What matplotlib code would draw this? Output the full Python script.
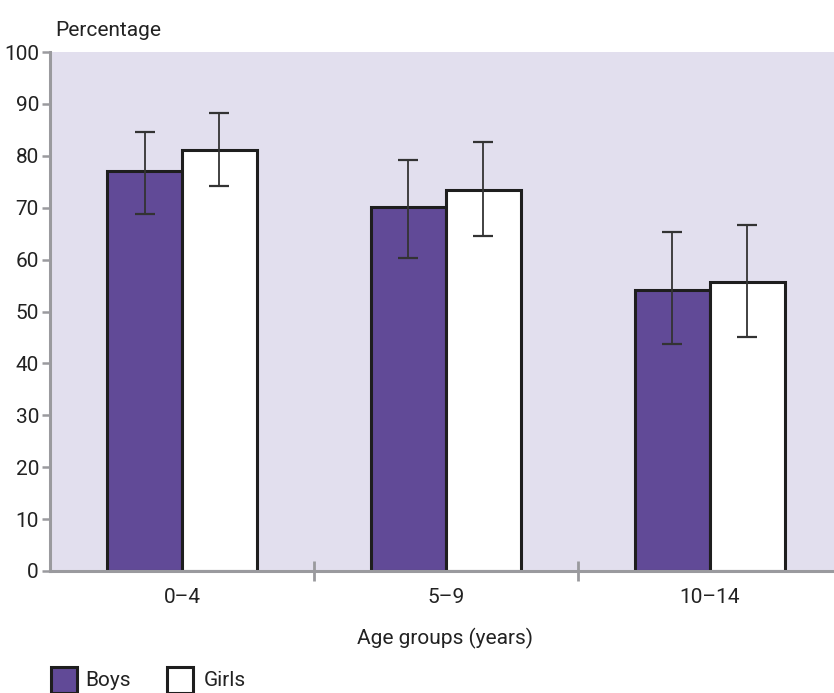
import matplotlib
matplotlib.use("Agg")
import matplotlib.pyplot as plt
from matplotlib.patches import Rectangle
import numpy as np

plt.rcParams['font.family'] = ['Liberation Sans Narrow', 'Roboto', 'DejaVu Sans']

categories = ["0–4", "5–9", "10–14"]
boys = [77.1, 70.1, 54.1]
boys_low = [68.7, 60.4, 43.7]
boys_high = [84.6, 79.2, 65.3]
girls = [81.2, 73.5, 55.6]
girls_low = [74.2, 64.5, 45.1]
girls_high = [88.2, 82.6, 66.7]
yticks = [0, 10, 20, 30, 40, 50, 60, 70, 80, 90, 100]

purple = "#614a97"
bg = "#e2dfee"
axis_gray = "#9a9a9e"
err_col = "#333333"

fig = plt.figure(figsize=(8.34, 6.93), dpi=100)
ax = fig.add_axes([50/834, 1-571/693, 1-50/834, (571-52)/693])
ax.set_facecolor(bg)

x = np.arange(len(categories))
w = 0.284
boys_err = [np.array(boys) - np.array(boys_low), np.array(boys_high) - np.array(boys)]
girls_err = [np.array(girls) - np.array(girls_low), np.array(girls_high) - np.array(girls)]

ax.bar(x - w/2, boys, w, color=purple, edgecolor="#1e1e1e", linewidth=2.2, zorder=2)
ax.bar(x + w/2, girls, w, color="white", edgecolor="#1e1e1e", linewidth=2.2, zorder=2)
ax.errorbar(x - w/2, boys, yerr=boys_err, fmt="none", ecolor=err_col, elinewidth=1.3,
            capsize=7, capthick=1.6, zorder=3)
ax.errorbar(x + w/2, girls, yerr=girls_err, fmt="none", ecolor=err_col, elinewidth=1.3,
            capsize=7, capthick=1.6, zorder=3)

ax.set_xlim(-0.5, 2.47)
ax.set_ylim(0, 100)

for s in ["top", "right"]:
    ax.spines[s].set_visible(False)
for s in ["left", "bottom"]:
    ax.spines[s].set_color(axis_gray)
    ax.spines[s].set_linewidth(2.2)

ax.set_yticks(yticks)
ax.set_yticklabels([str(t) for t in yticks], fontsize=15, color="#222222")
ax.tick_params(axis="y", direction="out", length=6, width=1.8, color=axis_gray, pad=2)

ax.set_xticks([0.5, 1.5])
ax.set_xticks(x, minor=True)
ax.set_xticklabels(["", ""])
ax.set_xticklabels(categories, minor=True, fontsize=15, color="#222222")
ax.tick_params(axis="x", which="major", direction="inout", length=14, width=2.0, color=axis_gray)
ax.tick_params(axis="x", which="minor", length=0, pad=12)

fig.text(55/834, 1-30/693, "Percentage", fontsize=15, color="#222222", va="center", ha="left")
fig.text(445/834, 1-638/693, "Age groups (years)", fontsize=15, color="#222222", va="center", ha="center")

# legend
fig.patches.append(Rectangle((51/834, 0.0), 26/834, 26/693, transform=fig.transFigure,
                             facecolor=purple, edgecolor="#1e1e1e", linewidth=2.2))
fig.text(85/834, 1-680/693, "Boys", fontsize=15, color="#222222", va="center", ha="left")
fig.patches.append(Rectangle((167/834, 0.0), 26/834, 26/693, transform=fig.transFigure,
                             facecolor="white", edgecolor="#1e1e1e", linewidth=2.2))
fig.text(204/834, 1-680/693, "Girls", fontsize=15, color="#222222", va="center", ha="left")

fig.savefig("out.png", dpi=100)
